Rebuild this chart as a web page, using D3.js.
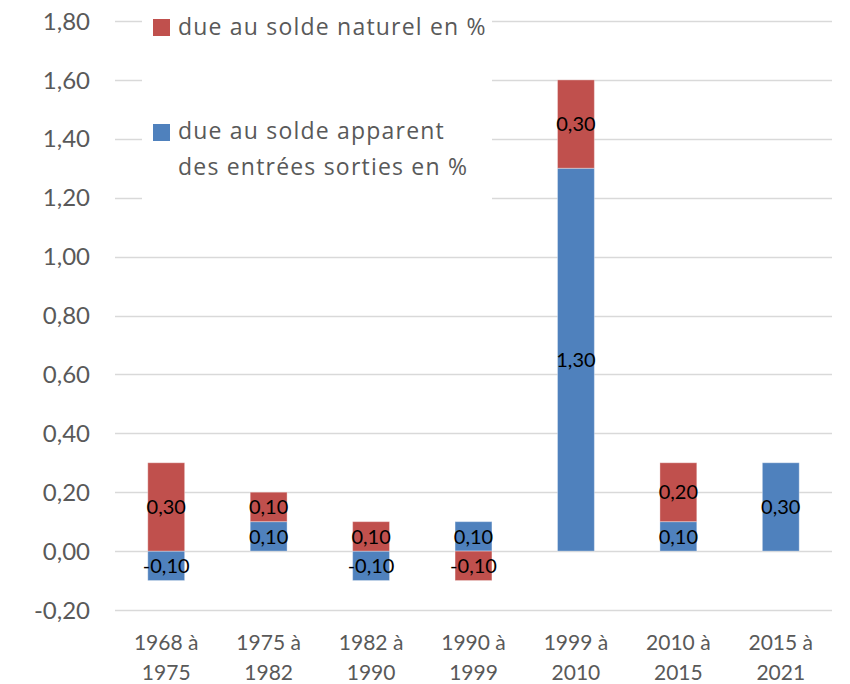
<!DOCTYPE html>
<html>
<head>
<meta charset="utf-8">
<script src="https://cdn.jsdelivr.net/npm/d3@7/dist/d3.min.js"></script>
<style>
  body { margin: 0; background: #fff; }
  svg { display: block; }
  text { font-family: Lato, "Open Sans", sans-serif; }
</style>
</head>
<body>
<svg id="chart" width="850" height="684"></svg>
<script>
const categories = [["1968 à","1975"],["1975 à","1982"],["1982 à","1990"],["1990 à","1999"],["1999 à","2010"],["2010 à","2015"],["2015 à","2021"]];
const migrationValues = [-0.10, 0.10, -0.10, 0.10, 1.30, 0.10, 0.30];
const naturalValues   = [ 0.30, 0.10,  0.10, -0.10, 0.30, 0.20, 0.00];
const yTicks = [-0.20, 0.00, 0.20, 0.40, 0.60, 0.80, 1.00, 1.20, 1.40, 1.60, 1.80];
const seriesNames = ["due au solde apparent des entrées sorties en %", "due au solde naturel en %"];
const seriesColors = ["#4F81BD", "#C0504D"];

const svg = d3.select("#chart");
const plotLeft = 115, plotRight = 832, plotTop = 21, plotBottom = 610;

const locale = d3.formatLocale({decimal: ",", thousands: " ", grouping: [3], currency: ["", " €"], minus: "-"});
const fmt = locale.format(".2f");

const x = d3.scaleBand().domain(d3.range(categories.length)).range([plotLeft, plotRight]).padding(0);
const y = d3.scaleLinear().domain([-0.2, 1.8]).range([plotBottom, plotTop]);

// gridlines
svg.append("g").selectAll("line").data(yTicks).join("line")
  .attr("x1", plotLeft).attr("x2", plotRight)
  .attr("y1", d => Math.round(y(d)) + 0.5).attr("y2", d => Math.round(y(d)) + 0.5)
  .attr("stroke", "#d9d9d9").attr("stroke-width", 1.5);

// y axis labels
const yAxis = d3.axisLeft(y).tickValues(yTicks).tickFormat(fmt).tickSize(0).tickPadding(0);
const yg = svg.append("g").attr("transform", `translate(90,0)`).call(yAxis);
yg.select(".domain").remove();
yg.selectAll("text").attr("fill", "#595959").attr("dy", "0.34em")
  .style("font-size", "24px").style("font-family", "Lato, 'Open Sans', sans-serif");

// stacked bars
const rows = categories.map((c, i) => ({i, mig: migrationValues[i], nat: naturalValues[i]}));
const stack = d3.stack().keys(["mig", "nat"]).offset(d3.stackOffsetDiverging);
const stacked = stack(rows);
const barW = x.bandwidth() * 0.36;

stacked.forEach((layer, k) => {
  const g = svg.append("g");
  g.selectAll("rect").data(layer.filter(d => d.data[layer.key] !== 0)).join("rect")
    .attr("x", d => x(d.data.i) + x.bandwidth() / 2 - barW / 2)
    .attr("width", barW)
    .attr("y", d => y(Math.max(d[0], d[1])))
    .attr("height", d => Math.abs(y(d[0]) - y(d[1])))
    .attr("fill", seriesColors[k])
    .attr("stroke", "#ffffff").attr("stroke-opacity", 0.35).attr("stroke-width", 1);
});

// data labels
stacked.forEach((layer, k) => {
  svg.append("g").selectAll("text").data(layer.filter(d => d.data[layer.key] !== 0)).join("text")
    .attr("x", d => x(d.data.i) + x.bandwidth() / 2)
    .attr("y", d => y((d[0] + d[1]) / 2))
    .attr("dy", "0.36em")
    .attr("text-anchor", "middle")
    .attr("fill", "#000")
    .style("font-size", "20px")
    .text(d => fmt(d.data[layer.key]));
});

// x labels
const xg = svg.append("g");
categories.forEach((lines, i) => {
  const t = xg.append("text")
    .attr("x", x(i) + x.bandwidth() / 2)
    .attr("text-anchor", "middle")
    .attr("fill", "#595959")
    .style("font-size", "21px");
  lines.forEach((ln, j) => t.append("tspan").attr("x", x(i) + x.bandwidth() / 2).attr("y", 650 + j * 30).text(ln));
});

// legend
const lg = svg.append("g");
lg.append("rect").attr("x", 142).attr("y", 0).attr("width", 350).attr("height", 202).attr("fill", "#fff");
lg.append("rect").attr("x", 153).attr("y", 19).attr("width", 17).attr("height", 17).attr("fill", seriesColors[1]);
lg.append("text").attr("x", 178).attr("y", 35).attr("fill", "#595959")
  .style("font-family", "'Open Sans', Lato, sans-serif").style("font-size", "23px").style("letter-spacing", "1.2px")
  .text(seriesNames[1]);
lg.append("rect").attr("x", 153).attr("y", 124).attr("width", 17).attr("height", 17).attr("fill", seriesColors[0]);
const lt = lg.append("text").attr("fill", "#595959")
  .style("font-family", "'Open Sans', Lato, sans-serif").style("font-size", "23px").style("letter-spacing", "1.2px");
lt.append("tspan").attr("x", 178).attr("y", 139).text("due au solde apparent");
lt.append("tspan").attr("x", 178).attr("y", 175).text("des entrées sorties en %");
</script>
</body>
</html>
